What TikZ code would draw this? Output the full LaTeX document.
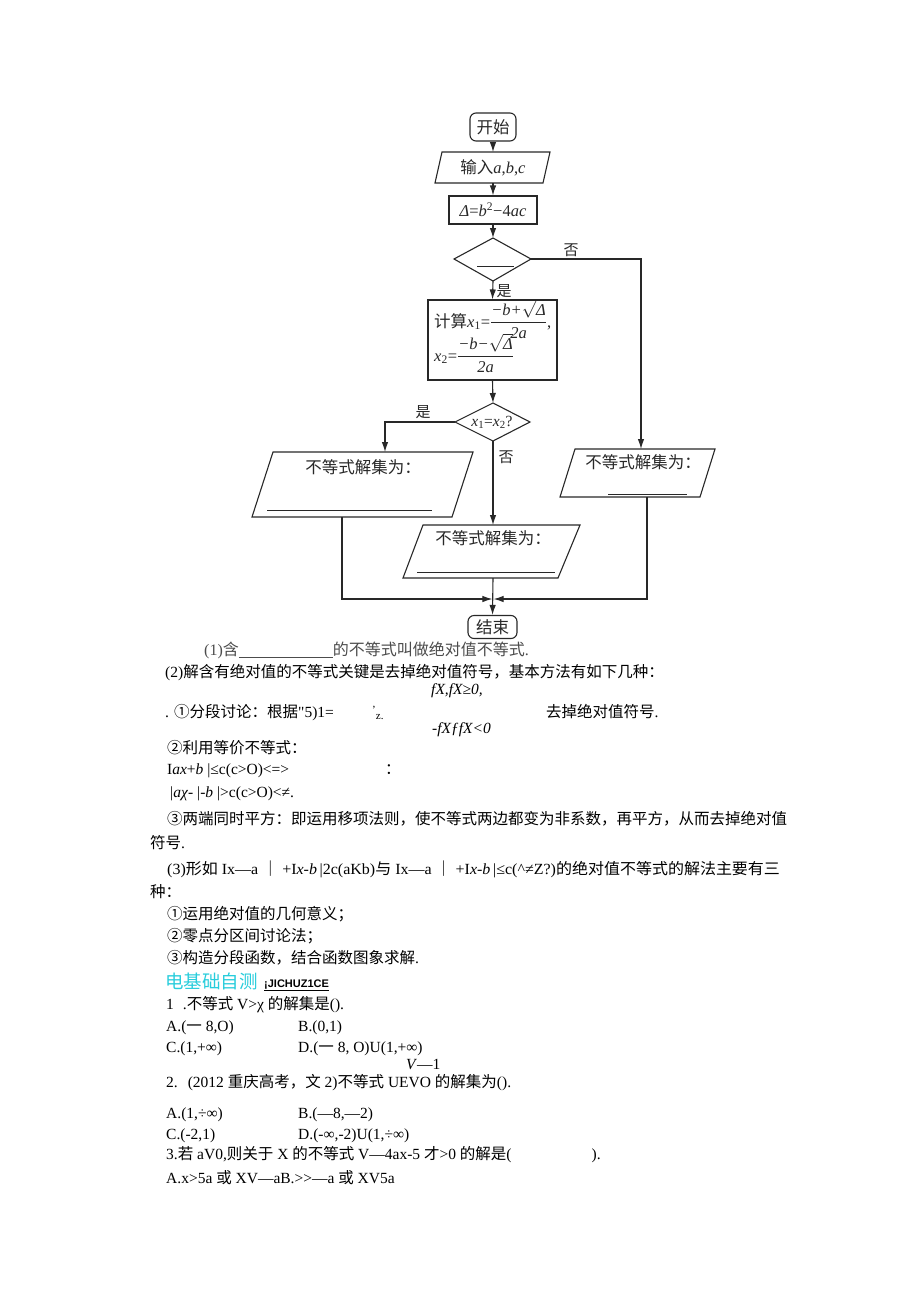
\documentclass[tikz,border=0pt]{standalone}
\usepackage{amsmath}
\usepackage{graphicx}
\usepackage{fontspec}
\setmainfont{Liberation Serif}
\newfontfamily\cjkf{Noto Sans CJK SC}
\newfontfamily\latf{Liberation Serif}
\newfontfamily\sansf{Liberation Sans}
\usetikzlibrary{arrows.meta}
\definecolor{zcyan}{RGB}{40,205,220}
\definecolor{ink}{RGB}{40,40,40}
\XeTeXinterchartokenstate=1
\newXeTeXintercharclass\zhclass
\newcount\zhcnt
\def\zhrange#1#2{\zhcnt=#1\relax\loop\XeTeXcharclass\zhcnt=\zhclass\relax\ifnum\zhcnt<#2\relax\advance\zhcnt by 1\relax\repeat}
\zhrange{"2460}{"24FF}
\zhrange{"3000}{"303F}
\zhrange{"4E00}{"9FFF}
\zhrange{"FF00}{"FFEF}
\XeTeXinterchartoks 0 \zhclass = {\cjkf}
\XeTeXinterchartoks \zhclass 0 = {\latf}
\XeTeXinterchartoks 4095 \zhclass = {\cjkf}
\XeTeXinterchartoks \zhclass 4095 = {\latf}
\newcommand\myfrac[2]{$\genfrac{}{}{0.6pt}{0}{\mbox{#1}}{\mbox{#2}}$}
\tikzset{
  fl/.style={draw=ink, line width=1.1pt},
  arr/.style={fl, -{Latex[length=10pt,width=6.5pt]}},
  ftxt/.style={font=\fontsize{16.5}{19}\selectfont, inner sep=0pt, text=ink},
  btxt/.style={font=\fontsize{15.5}{18}\selectfont, inner sep=0pt, anchor=base west},
  lbl/.style={font=\fontsize{15}{18}\selectfont, inner sep=0pt, text=ink},
}
\begin{document}
\begin{tikzpicture}[x=1pt,y=-1pt]
\useasboundingbox[fill=white] (0,0) rectangle (920,1301);

% ---------- flowchart ----------
\node[fl, ftxt, rounded corners=6pt, minimum width=46pt, minimum height=28pt] (start) at (493,127) {开始};

\draw[fl] (442,152) -- (550,152) -- (543,183) -- (435,183) -- cycle;
\coordinate (inT) at (493,152);
\coordinate (inB) at (490,183);
\node[ftxt] (input) at (493,168) {输入\textit{a},\textit{b},\textit{c}};

\node[fl, ftxt, minimum width=88pt, minimum height=28pt] (delta) at (493,210) {\textit{Δ}=\textit{b}\textsuperscript{2}−4\textit{ac}};

\coordinate (d1T) at (493,238);
\coordinate (d1R) at (531,259);
\coordinate (d1B) at (493,281);
\coordinate (d1L) at (454,259);
\draw[fl] (d1T) -- (d1R) -- (d1B) -- (d1L) -- cycle;
\draw[draw=ink, line width=0.8pt] (477,266) -- (514,266);

\node[fl, minimum width=129pt, minimum height=80pt, inner sep=0pt] (calc) at (492.5,340) {};
\node[ftxt, anchor=base west] (c1) at (434,327) {计算\textit{x}\textsubscript{1}=\myfrac{\itshape −b+$\sqrt{\mbox{\itshape Δ}}$}{\itshape 2a},};
\node[ftxt, anchor=base west] (c2) at (434,361) {\textit{x}\textsubscript{2}=\myfrac{\itshape −b−$\sqrt{\mbox{\itshape Δ}}$}{\itshape 2a}};

\coordinate (d2T) at (493,403);
\coordinate (d2R) at (530,422);
\coordinate (d2B) at (493,441);
\coordinate (d2L) at (455,422);
\draw[fl] (d2T) -- (d2R) -- (d2B) -- (d2L) -- cycle;
\node[ftxt, font=\fontsize{15.5}{18}\selectfont] (d2txt) at (492,422) {\textit{x}\textsubscript{1}=\textit{x}\textsubscript{2}?};

% left output
\draw[fl] (273,452) -- (473,452) -- (452,517) -- (252,517) -- cycle;
\draw[line width=0.9pt, draw=ink] (267,510) -- (432,510);
\coordinate (lpT) at (385,452);
\coordinate (lpB) at (342,517);
\node[ftxt] (lptxt) at (363,467) {不等式解集为：};

% right output
\draw[fl] (575,449) -- (715,449) -- (700,497) -- (560,497) -- cycle;
\draw[line width=0.9pt, draw=ink] (608,494) -- (687,494);
\coordinate (rpT) at (641,449);
\coordinate (rpB) at (647,497);
\node[ftxt] (rptxt) at (643,462) {不等式解集为：};

% middle output
\draw[fl] (423,525) -- (580,525) -- (558,578) -- (403,578) -- cycle;
\draw[line width=0.9pt, draw=ink] (417,572) -- (555,572);
\coordinate (mpT) at (493,525);
\coordinate (mpB) at (493,578);
\node[ftxt] (mptxt) at (493,538) {不等式解集为：};

\node[fl, ftxt, rounded corners=6pt, minimum width=49pt, minimum height=23pt] (end) at (492.5,627) {结束};
\coordinate (join) at (493,599);

% connectors
\draw[arr] (start.south) -- (inT);
\draw[arr] (inB -| start.south) -- (delta.north);
\draw[arr] (delta.south) -- (d1T);
\draw[arr] (d1R) -| (rpT);
\draw[arr] (d1B) -- (calc.north);
\draw[arr] (calc.south) -- (d2T);
\draw[arr] (d2L) -| (lpT);
\draw[arr] (d2B) -- (mpT);
\draw[arr, shorten >=0.6pt] (lpB) |- (join);
\draw[arr, shorten >=0.6pt] (rpB) |- (join);
\draw[arr] (mpB) -- (end.north);

\node[lbl] (no1) at (571,250) {否};
\node[lbl] (yes1) at (504,291) {是};
\node[lbl] (yes2) at (423,412) {是};
\node[lbl] (no2) at (506,457) {否};

% ---------- text ----------
\node[btxt, font=\fontsize{16}{18}\selectfont, text=black!70] (t1) at (204,655) {(1)含\rule[-2.5pt]{94pt}{0.7pt}的不等式叫做绝对值不等式.};
\node[btxt] (t2) at (165,677) {(2)解含有绝对值的不等式关键是去掉绝对值符号，基本方法有如下几种：};
\node[btxt] (t3) at (431,694) {\itshape fX,fX≥0,};
\node[btxt] (t4) at (165,717) {. ①分段讨论：根据"5)1=};
\node[btxt] (t4b) at (372,717) {\fontsize{11}{12}\selectfont\raisebox{4pt}{'}\raisebox{-2pt}{z.}};
\node[btxt] (t4c) at (546,717) {去掉绝对值符号.};
\node[btxt] (t5) at (432,733) {\itshape -fXƒfX<0};
\node[btxt] (t6) at (167,753) {②利用等价不等式：};
\node[btxt] (t7) at (167,774) {I\textit{ax}+\textit{b} |≤c(c>O)<=>};
\node[btxt] (t7b) at (385,774) {：};
\node[btxt] (t8) at (170,797) {|\textit{aχ}- |-\textit{b} |>c(c>O)<≠.};
\node[btxt] (t9) at (167,824) {③两端同时平方：即运用移项法则，使不等式两边都变为非系数，再平方，从而去掉绝对值};
\node[btxt] (t10) at (150,848) {符号.};
\node[btxt] (t11) at (167,874) {\scalebox{1.032}[1]{(3)形如 Ix—a ｜ +I\textit{x}-\textit{b}\,|2c(aKb)与 Ix—a ｜ +I\textit{x}-\textit{b}\,|≤c(\textasciicircum≠Z?)的绝对值不等式的解法主要有三}};
\node[btxt] (t12) at (150,897) {种：};
\node[btxt] (t13) at (167,919) {①运用绝对值的几何意义；};
\node[btxt] (t14) at (167,941) {②零点分区间讨论法；};
\node[btxt] (t15) at (167,963) {③构造分段函数，结合函数图象求解.};
\node[btxt, font=\fontsize{18.5}{20}\selectfont, text=zcyan] (t16) at (165,988) {电基础自测};
\node[btxt, font=\sansf\bfseries\fontsize{11}{12}\selectfont] (t16b) at (264,987) {\underline{¡JICHUZ1CE}};
\node[btxt] (t17) at (166,1009) {1\hspace{9pt}.不等式 V>χ 的解集是().};
\node[btxt] (t18a) at (166,1031) {A.(一 8,O)};
\node[btxt] (t18b) at (298,1031) {B.(0,1)};
\node[btxt] (t19a) at (166,1052) {C.(1,+∞)};
\node[btxt] (t19b) at (298,1052) {D.(一 8, O)U(1,+∞)};
\node[btxt] (t20) at (406,1069) {\textit{V}—1};
\node[btxt] (t21) at (166,1087) {2.\hspace{10pt}(2012 重庆高考，文 2)不等式 UEVO 的解集为().};
\node[btxt] (t22a) at (166,1118) {A.(1,÷∞)};
\node[btxt] (t22b) at (298,1118) {B.(—8,—2)};
\node[btxt] (t23a) at (166,1139) {C.(-2,1)};
\node[btxt] (t23b) at (298,1139) {D.(-∞,-2)U(1,÷∞)};
\node[btxt] (t24) at (166,1159) {3.若 aV0,则关于 X 的不等式 V—4ax-5 才>0 的解是(\hspace{80pt}).};
\node[btxt] (t25) at (166,1183) {A.x>5a 或 XV—aB.>>—a 或 XV5a};
\end{tikzpicture}
\end{document}
